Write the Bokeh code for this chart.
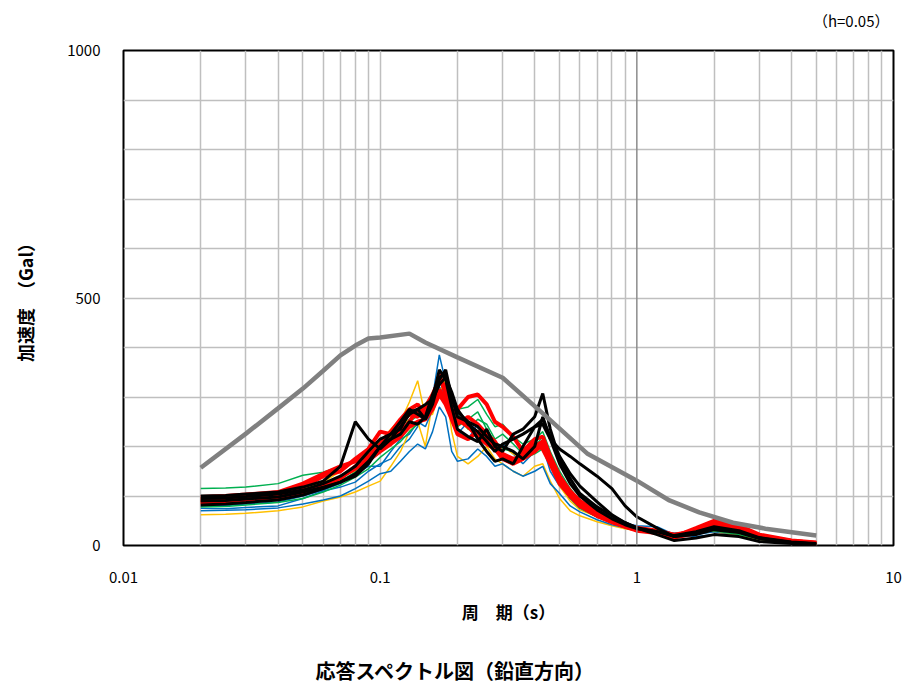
from bokeh.plotting import figure
from bokeh.models import FixedTicker, Span, Range1d
from bokeh.layouts import column
from bokeh.core.properties import value
from bokeh.embed import file_html
from bokeh.resources import INLINE

# ---------------- data ----------------
periods = [0.02, 0.025, 0.03, 0.04, 0.05, 0.06, 0.07, 0.08, 0.09, 0.10,
           0.11, 0.12, 0.13, 0.14, 0.15, 0.16, 0.17, 0.18, 0.19, 0.20,
           0.22, 0.24, 0.26, 0.28, 0.30, 0.33, 0.36, 0.40, 0.43, 0.46,
           0.50, 0.55, 0.60, 0.70, 0.80, 0.90, 1.0, 1.2, 1.4, 1.7,
           2.0, 2.5, 3.0, 4.0, 5.0]

blue_1 = [75, 74, 77, 80, 95, 110, 118, 128, 150, 165, 175, 200, 215, 240, 265, 300, 385, 330, 270, 230,
          215, 245, 215, 190, 205, 185, 165, 190, 200, 150, 120, 95, 85, 70, 60, 45, 40, 38, 22, 18,
          22, 20, 12, 6, 3]
blue_2 = [70, 71, 72, 76, 84, 92, 100, 115, 130, 145, 150, 170, 190, 205, 195, 230, 280, 260, 190, 170,
          175, 195, 180, 160, 165, 150, 140, 150, 160, 125, 105, 80, 68, 52, 42, 36, 30, 32, 24, 22,
          28, 22, 14, 7, 4]
blue_3 = [80, 81, 84, 88, 100, 112, 125, 145, 160, 160, 190, 215, 225, 250, 240, 275, 320, 305, 250, 225,
          250, 230, 205, 195, 175, 170, 175, 190, 210, 175, 140, 110, 90, 65, 50, 40, 35, 30, 25, 28,
          32, 25, 15, 8, 4]

yellow_1 = [62, 63, 65, 70, 78, 90, 98, 108, 120, 130, 160, 190, 230, 250, 200, 290, 340, 320, 230, 180,
            165, 180, 200, 175, 165, 150, 140, 160, 165, 130, 95, 70, 60, 48, 40, 34, 30, 26, 20, 24,
            28, 20, 12, 6, 3]
yellow_2 = [85, 86, 90, 95, 108, 125, 140, 150, 175, 200, 220, 250, 290, 333, 260, 265, 310, 335, 300, 255,
            235, 225, 215, 200, 180, 170, 175, 195, 200, 165, 120, 90, 72, 58, 45, 38, 32, 28, 24, 30,
            34, 24, 14, 7, 4]
yellow_3 = [95, 96, 98, 102, 115, 128, 150, 170, 185, 210, 235, 255, 250, 270, 280, 300, 315, 320, 280, 250,
            260, 240, 220, 205, 200, 185, 175, 200, 205, 175, 130, 100, 80, 60, 48, 40, 35, 30, 22, 26,
            30, 22, 13, 6, 3]

green_1 = [115, 116, 118, 125, 142, 148, 160, 172, 190, 210, 225, 240, 255, 270, 285, 305, 330, 310, 290, 275,
           280, 295, 265, 240, 245, 220, 205, 215, 230, 190, 150, 115, 90, 70, 55, 44, 36, 30, 22, 26,
           30, 24, 14, 7, 4]
green_2 = [90, 91, 93, 98, 108, 118, 130, 148, 168, 190, 210, 230, 250, 262, 280, 300, 325, 345, 300, 265,
           235, 255, 245, 215, 225, 205, 185, 200, 220, 185, 140, 105, 85, 65, 50, 42, 34, 30, 24, 28,
           32, 25, 14, 7, 4]
green_3 = [78, 79, 82, 87, 95, 108, 122, 138, 155, 178, 195, 210, 230, 245, 260, 285, 315, 300, 270, 240,
           255, 270, 235, 210, 195, 190, 175, 185, 195, 165, 125, 95, 75, 58, 46, 38, 33, 29, 22, 26,
           30, 22, 13, 6, 3]

red_1 = [92, 93, 96, 102, 118, 140, 150, 175, 195, 230, 225, 250, 265, 260, 280, 305, 335, 320, 290, 275,
         300, 305, 285, 250, 240, 220, 190, 205, 195, 165, 125, 100, 80, 60, 48, 38, 30, 25, 18, 35,
         50, 40, 22, 10, 6]
red_2 = [85, 87, 90, 96, 106, 120, 138, 155, 175, 200, 210, 230, 250, 275, 265, 295, 345, 305, 265, 245,
         260, 245, 225, 210, 185, 175, 180, 200, 210, 175, 135, 105, 85, 65, 50, 40, 34, 28, 20, 28,
         40, 32, 18, 9, 5]
red_3 = [98, 100, 103, 108, 125, 145, 160, 170, 180, 205, 230, 255, 275, 285, 265, 285, 315, 295, 275, 255,
         240, 220, 205, 195, 180, 170, 190, 215, 220, 180, 140, 110, 90, 68, 52, 42, 36, 30, 22, 30,
         42, 34, 18, 8, 4]
red_4 = [88, 90, 93, 100, 110, 122, 135, 160, 172, 190, 205, 220, 240, 250, 255, 275, 305, 285, 255, 225,
         215, 230, 220, 195, 175, 165, 175, 190, 205, 170, 130, 100, 80, 60, 47, 38, 32, 27, 16, 25,
         45, 36, 20, 9, 5]

black_1 = [100, 101, 104, 108, 118, 130, 160, 250, 215, 195, 215, 240, 265, 275, 255, 285, 335, 355, 300, 260,
           250, 240, 220, 205, 200, 190, 175, 200, 260, 215, 165, 125, 100, 72, 54, 42, 34, 28, 20, 28,
           38, 30, 16, 7, 4]
black_2 = [82, 84, 87, 92, 102, 115, 128, 145, 170, 200, 225, 250, 275, 265, 255, 295, 355, 335, 280, 235,
           220, 210, 235, 200, 190, 225, 235, 260, 307, 235, 175, 135, 105, 78, 60, 46, 36, 28, 18, 25,
           35, 28, 15, 6, 3]
black_3 = [90, 91, 94, 98, 108, 118, 128, 140, 165, 200, 215, 225, 250, 245, 260, 305, 340, 345, 300, 270,
           250, 215, 190, 170, 175, 165, 200, 240, 255, 220, 180, 145, 120, 88, 62, 46, 35, 22, 10, 15,
           22, 18, 8, 4, 2]
black_4 = [95, 96, 99, 104, 112, 125, 140, 160, 190, 215, 225, 235, 270, 275, 285, 295, 325, 340, 310, 275,
           245, 230, 210, 190, 205, 215, 225, 240, 245, 215, 195, 180, 165, 140, 115, 80, 58, 35, 18, 22,
           32, 26, 14, 6, 3]

design_periods = [0.02, 0.03, 0.04, 0.05, 0.06, 0.07, 0.08, 0.09, 0.10, 0.13, 0.15, 0.20, 0.30,
                  0.43, 0.64, 1.0, 1.34, 1.75, 2.37, 3.17, 5.0]
design_accel = [157, 226, 277, 317, 353, 384, 404, 418, 420, 428, 410, 380, 339,
                267, 186, 131, 91, 67, 46, 34, 20]

x_ticks = [0.01, 0.1, 1, 10]
x_tick_labels = ["0.01", "0.1", "1", "10"]
y_ticks = [0, 500, 1000]

chart_title = "応答スペクトル図（鉛直方向）"
damping_note = "（h=0.05）"

FONT = "Noto Sans CJK JP"


def text_strip(height):
    # a blank strip whose frame is aligned with the chart's frame (x 123..893 px)
    s = figure(width=905, height=height, x_range=Range1d(123, 893), y_range=Range1d(0, height),
               output_backend="svg", toolbar_location=None,
               x_axis_location=None, y_axis_location=None, min_border=0)
    s.outline_line_color = None
    s.grid.visible = False
    s.background_fill_color = "white"
    s.border_fill_color = "white"
    return s


# ---------------- top strip: damping note ----------------
top_strip = text_strip(40)
top_strip.text(x=[889], y=[20], text=[damping_note], text_font=value(FONT),
               text_font_size=value("15px"), text_color="black",
               text_align="right", text_baseline="middle")

# ---------------- main chart ----------------
p = figure(width=905, height=590, x_axis_type="log", x_range=(0.01, 10), y_range=(0, 1000),
           output_backend="svg", toolbar_location=None,
           min_border_left=123, min_border_right=12, min_border_top=10, min_border_bottom=85)
p.background_fill_color = "white"
p.border_fill_color = "white"
p.outline_line_color = "black"
p.outline_line_width = 2

minor_x = []
for d in [0.01, 0.1, 1]:
    for k in range(2, 10):
        minor_x.append(round(d * k, 4))
p.xgrid.ticker = FixedTicker(ticks=minor_x + [0.1])
p.xgrid.grid_line_color = "#BFBFBF"
p.xgrid.grid_line_width = 1.5
p.ygrid.ticker = FixedTicker(ticks=[100, 200, 300, 400, 500, 600, 700, 800, 900])
p.ygrid.grid_line_color = "#BFBFBF"
p.ygrid.grid_line_width = 1.5
p.add_layout(Span(location=1, dimension="height", line_color="#8C8C8C", line_width=1.5))

p.xaxis.ticker = FixedTicker(ticks=x_ticks)
p.xaxis.major_label_overrides = {t: l for t, l in zip(x_ticks, x_tick_labels)}
p.yaxis.ticker = FixedTicker(ticks=y_ticks)
for ax in (p.xaxis[0], p.yaxis[0]):
    ax.axis_line_color = None
    ax.major_tick_line_color = None
    ax.minor_tick_line_color = None
    ax.major_label_text_font = FONT
    ax.major_label_text_font_size = "15px"
    ax.major_label_text_color = "black"
    ax.axis_label_text_font = FONT
    ax.axis_label_text_font_size = "17px"
    ax.axis_label_text_font_style = "bold"
    ax.axis_label_text_color = "black"
p.xaxis.major_label_standoff = 20
p.yaxis.major_label_standoff = 17
p.xaxis.axis_label = "周　期（s）"
p.xaxis.axis_label_standoff = 13
p.yaxis.axis_label = "加速度　（Gal）"
p.yaxis.axis_label_text_font_size = "18px"
p.yaxis.axis_label_standoff = 26

thin = [("#0070C0", blue_1), ("#FFC000", yellow_1), ("#00B050", green_1),
        ("#0070C0", blue_2), ("#FFC000", yellow_2), ("#00B050", green_2),
        ("#0070C0", blue_3), ("#FFC000", yellow_3), ("#00B050", green_3)]
for c, ys in thin:
    p.line(periods, ys, line_color=c, line_width=1.5)
for ys in (red_1, red_2, red_3, red_4):
    p.line(periods, ys, line_color="#FF0000", line_width=4)
for ys in (black_1, black_2, black_3, black_4):
    p.line(periods, ys, line_color="black", line_width=3)
p.line(design_periods, design_accel, line_color="#808080", line_width=4.5)

# ---------------- bottom strip: chart title ----------------
bottom_strip = text_strip(56)
bottom_strip.text(x=[455], y=[16], text=[chart_title], text_font=value(FONT),
                  text_font_size=value("20px"), text_font_style="bold", text_color="black",
                  text_align="center", text_baseline="middle")

layout = column(top_strip, p, bottom_strip, spacing=0)
open("out.html", "w").write(file_html(layout, INLINE))
